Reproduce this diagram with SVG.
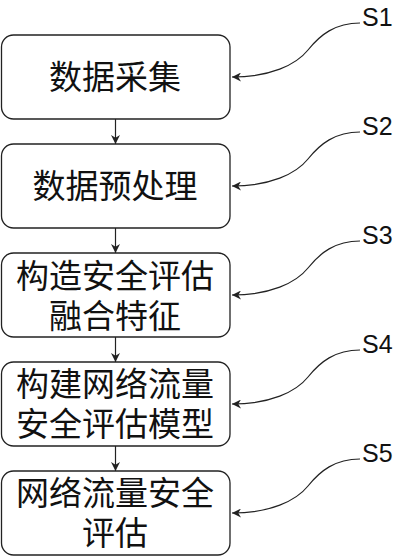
<svg xmlns="http://www.w3.org/2000/svg" width="400" height="556" viewBox="0 0 400 556">
<style>
.box{fill:#fff;stroke:#222;stroke-width:1.3}
.t{font-family:"Noto Sans CJK SC","Liberation Sans",sans-serif;font-size:33px;fill:#111;text-anchor:middle}
.lbl{font-family:"Liberation Sans",Arial,sans-serif;font-size:25px;fill:#111}
.c{fill:none;stroke:#222;stroke-width:1.2}
</style>
<defs>
<marker id="ah" viewBox="0 0 10 10" refX="10" refY="5" markerWidth="9" markerHeight="9" markerUnits="userSpaceOnUse" orient="auto">
<path d="M0,0 L10,5 L0,10 L3,5 z" fill="#222"/>
</marker>
</defs>
<rect width="400" height="556" fill="#fff"/>
<g id="connectors">
<line class="c" x1="115.5" y1="119" x2="115.5" y2="144" marker-end="url(#ah)"/>
<line class="c" x1="115.5" y1="228" x2="115.5" y2="253" marker-end="url(#ah)"/>
<line class="c" x1="115.5" y1="337" x2="115.5" y2="362" marker-end="url(#ah)"/>
<line class="c" x1="115.5" y1="446" x2="115.5" y2="471" marker-end="url(#ah)"/>
<path class="c" d="M360,23 C335,23 320,35 308,50 S270,77 232,77" marker-end="url(#ah)"/>
<path class="c" d="M360,132 C335,132 320,144 308,159 S270,186 232,186" marker-end="url(#ah)"/>
<path class="c" d="M360,241 C335,241 320,253 308,268 S270,295 232,295" marker-end="url(#ah)"/>
<path class="c" d="M360,350 C335,350 320,362 308,377 S270,404 232,404" marker-end="url(#ah)"/>
<path class="c" d="M360,459 C335,459 320,471 308,486 S270,513 232,513" marker-end="url(#ah)"/>
</g>
<g id="s1">
<rect class="box" x="1.5" y="35" width="228.5" height="84" rx="12"/>
<text class="t" x="115" y="89">数据采集</text>
<text class="lbl" x="362" y="26">S1</text>
</g>
<g id="s2">
<rect class="box" x="1.5" y="144" width="228.5" height="84" rx="12"/>
<text class="t" x="115" y="198">数据预处理</text>
<text class="lbl" x="362" y="135">S2</text>
</g>
<g id="s3">
<rect class="box" x="1.5" y="253" width="228.5" height="84" rx="12"/>
<text class="t" x="115" y="287.5"><tspan x="115">构造安全评估</tspan><tspan x="115" dy="40">融合特征</tspan></text>
<text class="lbl" x="362" y="244">S3</text>
</g>
<g id="s4">
<rect class="box" x="1.5" y="362" width="228.5" height="84" rx="12"/>
<text class="t" x="115" y="395.5"><tspan x="115">构建网络流量</tspan><tspan x="115" dy="40">安全评估模型</tspan></text>
<text class="lbl" x="362" y="353">S4</text>
</g>
<g id="s5">
<rect class="box" x="1.5" y="471" width="228.5" height="84" rx="12"/>
<text class="t" x="115" y="505"><tspan x="115">网络流量安全</tspan><tspan x="115" dy="40">评估</tspan></text>
<text class="lbl" x="362" y="462">S5</text>
</g>
</svg>
